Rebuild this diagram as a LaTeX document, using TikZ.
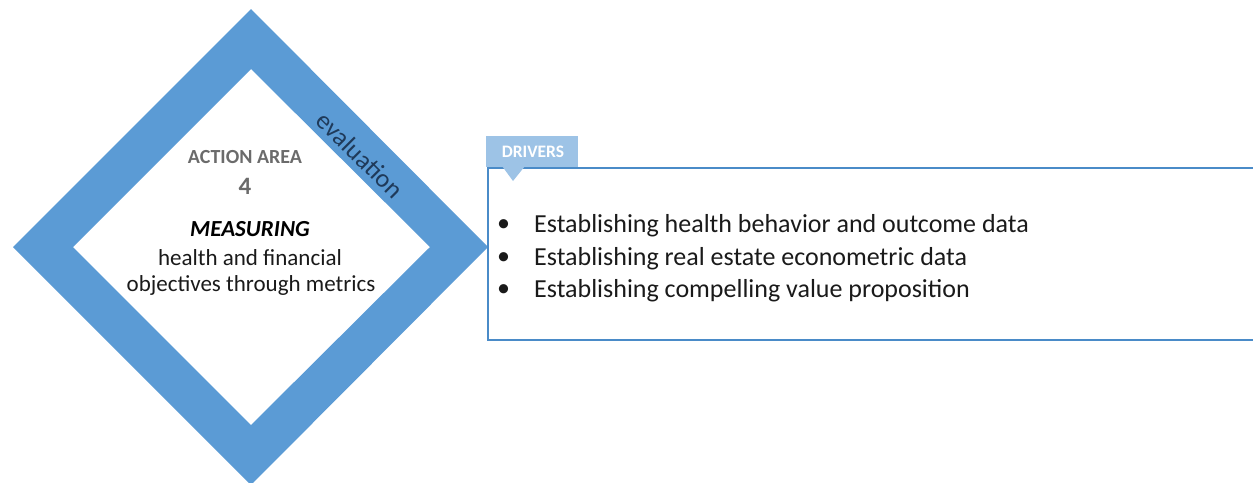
\documentclass[tikz,border=0pt]{standalone}
\usepackage{fontspec}
\setmainfont{Carlito}
\definecolor{dblue}{HTML}{5B9BD5}
\definecolor{tabblue}{HTML}{9DC3E6}
\definecolor{boxblue}{HTML}{4A8BC8}
\definecolor{graytxt}{HTML}{6B6B6B}
\definecolor{evaltxt}{HTML}{1F3A5A}
\definecolor{bodytxt}{HTML}{1A1A1A}
\tikzset{
  bullettxt/.style={anchor=west, inner sep=0pt, font=\fontsize{26}{30}\selectfont, text=bodytxt},
  dmtxt/.style={align=center, inner sep=0pt},
}
\begin{document}
\begin{tikzpicture}[x=1pt,y=-1pt]
\useasboundingbox (0,0) rectangle (1253,482);
% diamond band
\fill[dblue, even odd rule] (251,9) -- (488,247) -- (251,485) -- (13,247) -- cycle
  (251,69) -- (430,247) -- (251,425) -- (73,247) -- cycle;
% diamond texts
\node[dmtxt, font=\fontsize{20}{24}\selectfont\bfseries, text=graytxt] (aa) at (245,157) {ACTION AREA};
\node[dmtxt, font=\fontsize{25}{30}\selectfont\bfseries, text=graytxt] (num) at (245,186) {4};
\node[dmtxt, font=\fontsize{23}{27}\selectfont\bfseries\itshape, text=black] (meas) at (250,229) {MEASURING};
\node[dmtxt, font=\fontsize{23}{27}\selectfont, text=bodytxt] (l1) at (250,258) {health and financial};
\node[dmtxt, font=\fontsize{23}{27}\selectfont, text=bodytxt] (l2) at (251,285) {objectives through metrics};
\node[rotate=-45, font=\fontsize{26}{30}\selectfont, text=evaltxt, inner sep=0pt] (eval) at (360,155) {evaluation};
% drivers box
\draw[boxblue, line width=1.5pt] (1262,168) -- (488,168) -- (488,340) -- (1262,340);
\fill[tabblue] (486,136) rectangle (578,167);
\fill[tabblue] (502,166) -- (525,166) -- (513,181) -- cycle;
\node[font=\fontsize{17.5}{20}\selectfont\bfseries, text=white, inner sep=0pt] (drv) at (533,152) {DRIVERS};
% bullets
\foreach \yy/\t [count=\i] in {226/Establishing health behavior and outcome data,
                   259/Establishing real estate econometric data,
                   291/Establishing compelling value proposition} {
  \node[bullettxt] (b\i) at (497,\yy) {•};
  \node[bullettxt] (t\i) at (534,\yy) {\t};
}
\end{tikzpicture}
\end{document}
